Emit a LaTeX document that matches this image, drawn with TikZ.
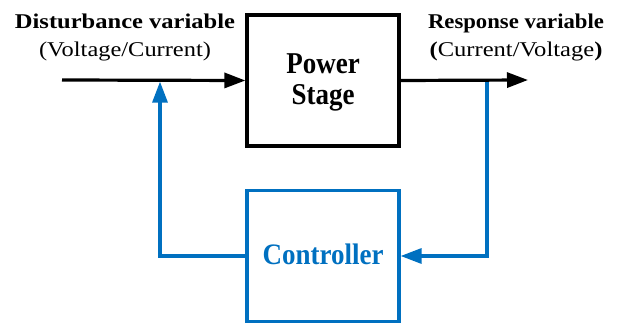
\documentclass[tikz,border=0pt]{standalone}
\usepackage{fontspec}
\setmainfont{Liberation Serif}
\usetikzlibrary{arrows.meta}
\definecolor{ctrlblue}{RGB}{0,112,192}
\begin{document}
\begin{tikzpicture}[x=1pt,y=-1pt,
  blk/.style={line width=3.2pt, minimum width=152pt, minimum height=131pt, inner sep=0pt},
  sig/.style={line width=3.2pt, -{Triangle[length=21pt,width=15pt]}},
  lbl/.style={inner sep=0pt, anchor=base, font=\fontsize{21}{28.7}\selectfont}]
\useasboundingbox (0,0) rectangle (621,323);
\node[blk, draw=black, text=black] (ps) at (323,80.5)
  {\raisebox{7.2pt}[0pt][0pt]{\scalebox{1}[1.12]{\fontsize{27}{28.3}\selectfont\bfseries\begin{tabular}[t]{@{}c@{}}Power\\Stage\end{tabular}}}};
\node[blk, draw=ctrlblue, text=ctrlblue] (ctrl) at (323,256)
  {\raisebox{-9pt}[0pt][0pt]{\scalebox{1}[1.1]{\fontsize{27}{28.3}\selectfont\bfseries Controller}}};
\node[lbl] (dist) at (125,28.3)
  {\begin{tabular}[t]{@{}c@{}}\scalebox{1.168}[1]{\textbf{Disturbance variable}}\\\scalebox{1.163}[1]{(Voltage/Current)}\end{tabular}};
\node[lbl] (resp) at (516,28.3)
  {\begin{tabular}[t]{@{}c@{}}\scalebox{1.081}[1]{\textbf{Response variable}}\\\scalebox{1.17}[1]{\textbf{(}Current/Voltage\textbf{)}}\end{tabular}};
\coordinate (in) at (62,80);
\coordinate (out) at (528,80);
\coordinate (tap) at (487,80);
\coordinate (fb) at (160,81.6);
\draw[sig, ctrlblue] (tap) |- (ctrl.east);
\draw[sig, ctrlblue] (ctrl.west) -| (fb);
\draw[sig] (in) -- (ps.west);
\draw[sig] (ps.east) -- (out);
\end{tikzpicture}
\end{document}
